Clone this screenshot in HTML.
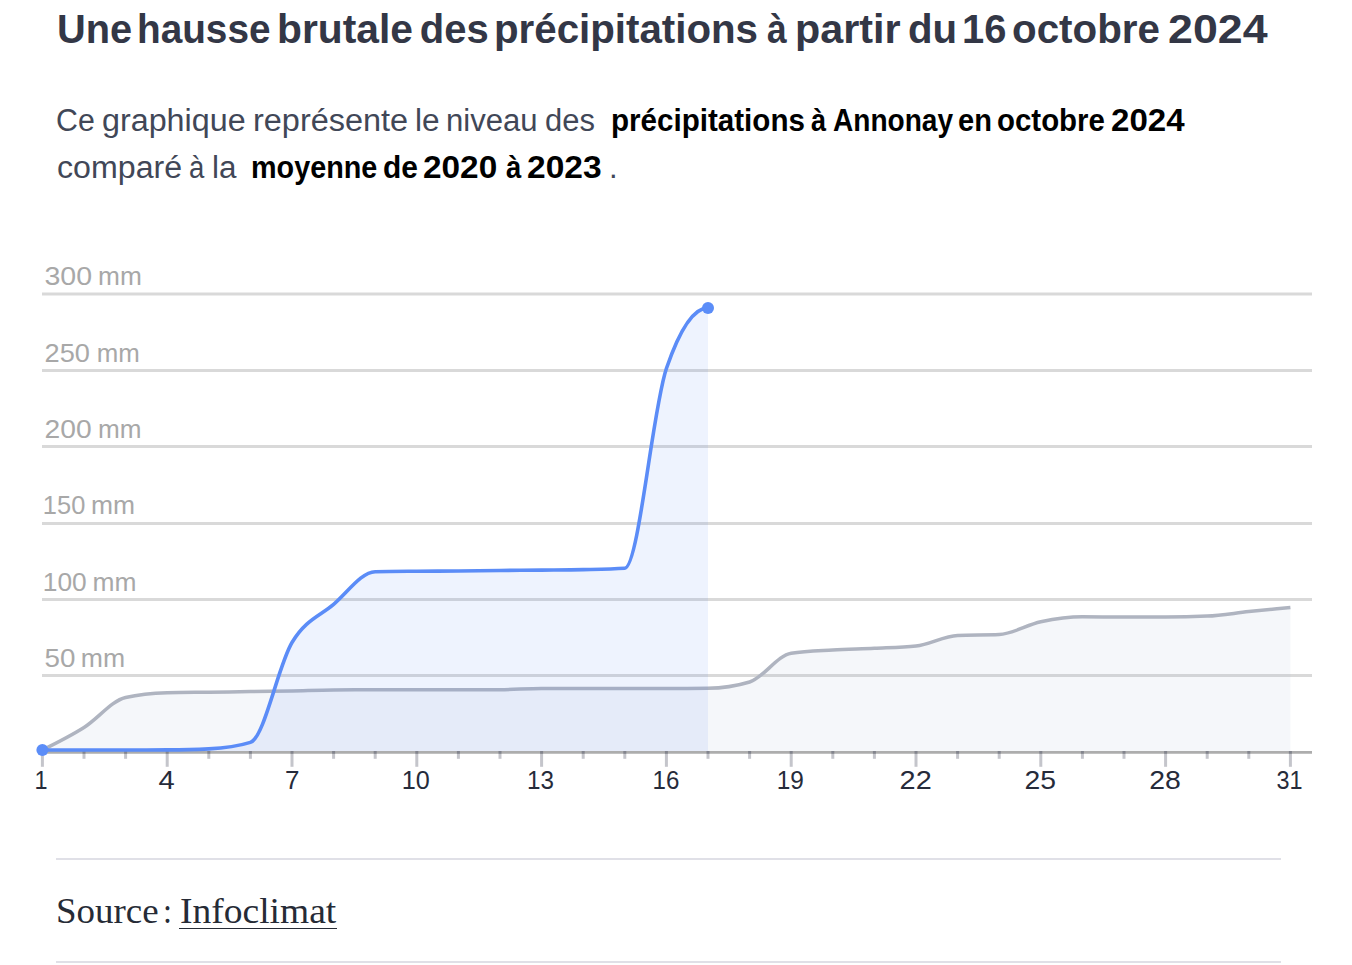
<!DOCTYPE html>
<html lang="fr"><head><meta charset="utf-8"><title>Précipitations Annonay octobre 2024</title><style>
html,body{margin:0;padding:0;background:#fff;width:1352px;height:965px;overflow:hidden;}
body{position:relative;font-family:"Liberation Sans",sans-serif;}
h1,p{margin:0;font-size:inherit;font-weight:inherit;}
.tt,.sr,.sb,.sf{position:absolute;white-space:nowrap;transform-origin:0 0;}
.tt{font-size:40px;line-height:40px;font-weight:bold;color:#333746;}
.sr{font-size:31px;line-height:31px;color:#414757;}
.sb{font-size:31px;line-height:31px;font-weight:bold;color:#000;}
.chart{position:absolute;left:0;top:0;}
.yl{font-family:"Liberation Sans",sans-serif;font-size:25px;fill:#a8a8a8;}
.xl{font-family:"Liberation Sans",sans-serif;font-size:26px;fill:#262b3a;}
.rule{position:absolute;left:56px;width:1225px;height:2px;background:#e0e0e7;}
.sf{font-family:"Liberation Serif",serif;font-size:35px;line-height:35px;color:#262b36;}
.ul{position:absolute;left:179.2px;top:927.6px;width:157.6px;height:1.4px;background:#262b36;}
</style></head><body>
<h1>
<span class="tt" style="left:56.91px;top:8.80px;transform:scaleX(0.9944)">Une</span>
<span class="tt" style="left:136.89px;top:8.80px;transform:scaleX(0.9684)">hausse</span>
<span class="tt" style="left:277.24px;top:8.80px;transform:scaleX(1.0194)">brutale</span>
<span class="tt" style="left:419.80px;top:8.80px">des</span>
<span class="tt" style="left:494.18px;top:8.80px;transform:scaleX(1.0066)">précipitations</span>
<span class="tt" style="left:766.71px;top:8.80px;transform:scaleX(0.8857)">à</span>
<span class="tt" style="left:795.40px;top:8.80px;transform:scaleX(1.0323)">partir</span>
<span class="tt" style="left:908.39px;top:8.80px;transform:scaleX(1.0045)">du</span>
<span class="tt" style="left:961.71px;top:8.80px;transform:scaleX(0.9975)">16</span>
<span class="tt" style="left:1012.38px;top:8.80px;transform:scaleX(1.0084)">octobre</span>
<span class="tt" style="left:1167.88px;top:8.80px;transform:scaleX(1.1182)">2024</span>
</h1>
<p>
<span class="sr" style="left:56.34px;top:104.70px;transform:scaleX(0.9778)">Ce</span>
<span class="sr" style="left:102.06px;top:104.70px;transform:scaleX(1.0412)">graphique</span>
<span class="sr" style="left:252.51px;top:104.70px;transform:scaleX(1.0469)">représente</span>
<span class="sr" style="left:414.96px;top:104.70px;transform:scaleX(1.0190)">le</span>
<span class="sr" style="left:446.19px;top:104.70px;transform:scaleX(1.0034)">niveau</span>
<span class="sr" style="left:545.20px;top:104.70px;transform:scaleX(0.9979)">des</span>
<span class="sb" style="left:610.99px;top:104.70px;transform:scaleX(0.9540)">précipitations</span>
<span class="sb" style="left:811.02px;top:104.70px;transform:scaleX(0.8750)">à</span>
<span class="sb" style="left:832.59px;top:104.70px;transform:scaleX(0.9053)">Annonay</span>
<span class="sb" style="left:958.16px;top:104.70px;transform:scaleX(0.9364)">en</span>
<span class="sb" style="left:996.65px;top:104.70px;transform:scaleX(0.9491)">octobre</span>
<span class="sb" style="left:1111.23px;top:104.70px;transform:scaleX(1.0662)">2024</span>
<span class="sr" style="left:56.76px;top:151.70px;transform:scaleX(1.0373)">comparé</span>
<span class="sr" style="left:188.91px;top:151.70px;transform:scaleX(0.8875)">à</span>
<span class="sr" style="left:211.57px;top:151.70px;transform:scaleX(1.0136)">la</span>
<span class="sb" style="left:251.34px;top:151.70px;transform:scaleX(0.9278)">moyenne</span>
<span class="sb" style="left:383.34px;top:151.70px;transform:scaleX(0.9647)">de</span>
<span class="sb" style="left:423.32px;top:151.70px;transform:scaleX(1.0761)">2020</span>
<span class="sb" style="left:505.81px;top:151.70px;transform:scaleX(0.8875)">à</span>
<span class="sb" style="left:526.82px;top:151.70px;transform:scaleX(1.0821)">2023</span>
<span class="sr" style="left:609.00px;top:151.70px">.</span>
</p>
<svg class="chart" width="1352" height="965" viewBox="0 0 1352 965">
<line x1="42" x2="1312" y1="294.0" y2="294.0" stroke="#d9d9d9" stroke-width="3"/>
<text transform="translate(44.46 285) scale(1.1425 1)" class="yl">300</text>
<text transform="translate(98.10 285) scale(1.0500 1)" class="yl">mm</text>
<line x1="42" x2="1312" y1="370.5" y2="370.5" stroke="#d9d9d9" stroke-width="3"/>
<text transform="translate(44.61 362) scale(1.0875 1)" class="yl">250</text>
<text transform="translate(96.63 362) scale(1.0342 1)" class="yl">mm</text>
<line x1="42" x2="1312" y1="446.5" y2="446.5" stroke="#d9d9d9" stroke-width="3"/>
<text transform="translate(44.57 438) scale(1.1300 1)" class="yl">200</text>
<text transform="translate(97.91 438) scale(1.0447 1)" class="yl">mm</text>
<line x1="42" x2="1312" y1="523.5" y2="523.5" stroke="#d9d9d9" stroke-width="3"/>
<text transform="translate(42.86 514) scale(1.0179 1)" class="yl">150</text>
<text transform="translate(90.88 514) scale(1.0579 1)" class="yl">mm</text>
<line x1="42" x2="1312" y1="599.5" y2="599.5" stroke="#d9d9d9" stroke-width="3"/>
<text transform="translate(42.79 591) scale(1.0538 1)" class="yl">100</text>
<text transform="translate(92.59 591) scale(1.0553 1)" class="yl">mm</text>
<line x1="42" x2="1312" y1="675.5" y2="675.5" stroke="#d9d9d9" stroke-width="3"/>
<text transform="translate(44.59 667) scale(1.1115 1)" class="yl">50</text>
<text transform="translate(80.87 667) scale(1.0632 1)" class="yl">mm</text>
<path d="M42.40,750.00C56.27,743.12 70.13,736.25 84.00,727.50C97.87,718.75 111.73,700.63 125.60,697.50C139.47,694.37 153.33,693.20 167.20,692.80C181.07,692.40 194.93,692.40 208.80,692.20C222.67,692.00 236.53,691.82 250.40,691.60C264.27,691.38 278.13,691.17 292.00,690.90C305.87,690.63 319.73,690.13 333.60,690.00C347.47,689.87 361.33,689.80 375.20,689.80C389.07,689.80 402.93,689.80 416.80,689.80C430.67,689.80 444.53,689.80 458.40,689.80C472.27,689.80 486.13,689.77 500.00,689.70C513.87,689.63 527.73,688.40 541.60,688.40C555.47,688.40 569.33,688.40 583.20,688.40C597.07,688.40 610.93,688.40 624.80,688.40C638.67,688.40 652.53,688.40 666.40,688.40C680.27,688.40 694.13,688.37 708.00,688.30C721.87,688.23 735.73,686.20 749.60,682.00C763.47,677.80 777.33,655.33 791.20,653.20C805.07,651.07 818.93,650.82 832.80,650.00C846.67,649.18 860.53,648.97 874.40,648.30C888.27,647.63 902.13,647.53 916.00,646.00C929.87,644.47 943.73,636.00 957.60,635.40C971.47,634.80 985.33,635.10 999.20,634.50C1013.07,633.90 1026.93,624.75 1040.80,621.80C1054.67,618.85 1068.53,616.80 1082.40,616.80C1096.27,616.80 1110.13,616.95 1124.00,617.00C1137.87,617.05 1151.73,617.10 1165.60,617.10C1179.47,617.10 1193.33,616.77 1207.20,616.10C1221.07,615.43 1234.93,613.03 1248.80,611.60C1262.67,610.17 1276.53,608.83 1290.40,607.50L1290.40,751.50L42.40,751.50Z" fill="#a0b0cc" fill-opacity="0.1"/>
<path d="M42.40,750.00C56.27,743.12 70.13,736.25 84.00,727.50C97.87,718.75 111.73,700.63 125.60,697.50C139.47,694.37 153.33,693.20 167.20,692.80C181.07,692.40 194.93,692.40 208.80,692.20C222.67,692.00 236.53,691.82 250.40,691.60C264.27,691.38 278.13,691.17 292.00,690.90C305.87,690.63 319.73,690.13 333.60,690.00C347.47,689.87 361.33,689.80 375.20,689.80C389.07,689.80 402.93,689.80 416.80,689.80C430.67,689.80 444.53,689.80 458.40,689.80C472.27,689.80 486.13,689.77 500.00,689.70C513.87,689.63 527.73,688.40 541.60,688.40C555.47,688.40 569.33,688.40 583.20,688.40C597.07,688.40 610.93,688.40 624.80,688.40C638.67,688.40 652.53,688.40 666.40,688.40C680.27,688.40 694.13,688.37 708.00,688.30C721.87,688.23 735.73,686.20 749.60,682.00C763.47,677.80 777.33,655.33 791.20,653.20C805.07,651.07 818.93,650.82 832.80,650.00C846.67,649.18 860.53,648.97 874.40,648.30C888.27,647.63 902.13,647.53 916.00,646.00C929.87,644.47 943.73,636.00 957.60,635.40C971.47,634.80 985.33,635.10 999.20,634.50C1013.07,633.90 1026.93,624.75 1040.80,621.80C1054.67,618.85 1068.53,616.80 1082.40,616.80C1096.27,616.80 1110.13,616.95 1124.00,617.00C1137.87,617.05 1151.73,617.10 1165.60,617.10C1179.47,617.10 1193.33,616.77 1207.20,616.10C1221.07,615.43 1234.93,613.03 1248.80,611.60C1262.67,610.17 1276.53,608.83 1290.40,607.50" fill="none" stroke="#afb4c0" stroke-width="3.5"/>
<path d="M42.40,750.00C56.27,750.00 70.13,750.00 84.00,750.00C97.87,750.00 111.73,750.00 125.60,750.00C139.47,750.00 153.33,749.97 167.20,749.90C181.07,749.83 194.93,749.57 208.80,748.90C222.67,748.23 236.53,746.73 250.40,742.40C264.27,738.07 278.13,665.50 292.00,642.50C305.87,619.50 319.73,616.20 333.60,604.40C347.47,592.60 361.33,572.03 375.20,571.70C389.07,571.37 402.93,571.32 416.80,571.20C430.67,571.08 444.53,571.12 458.40,571.00C472.27,570.88 486.13,570.65 500.00,570.50C513.87,570.35 527.73,570.25 541.60,570.10C555.47,569.95 569.33,569.92 583.20,569.60C597.07,569.28 610.93,569.13 624.80,568.20C638.67,567.27 652.53,408.90 666.40,368.50C680.27,328.10 694.13,307.90 708.00,307.90L708.00,751.50L42.40,751.50Z" fill="#5b8df8" fill-opacity="0.1"/>
<line x1="42" x2="1312" y1="752.4" y2="752.4" stroke="#adadad" stroke-width="2.8"/>
<line x1="42.40" x2="42.40" y1="753.8" y2="766.8" stroke="#c4c5cb" stroke-width="3"/>
<rect x="40.90" y="751" width="3" height="2.8" fill="#82848d"/>
<text transform="translate(34.60 789) scale(0.9000 1)" class="xl">1</text>
<line x1="84.00" x2="84.00" y1="753.8" y2="758.8" stroke="#c4c5cb" stroke-width="3"/>
<rect x="82.50" y="751" width="3" height="2.8" fill="#82848d"/>
<line x1="125.60" x2="125.60" y1="753.8" y2="758.8" stroke="#c4c5cb" stroke-width="3"/>
<rect x="124.10" y="751" width="3" height="2.8" fill="#82848d"/>
<line x1="167.20" x2="167.20" y1="753.8" y2="766.8" stroke="#c4c5cb" stroke-width="3"/>
<rect x="165.70" y="751" width="3" height="2.8" fill="#82848d"/>
<text transform="translate(158.58 789) scale(1.1231 1)" class="xl">4</text>
<line x1="208.80" x2="208.80" y1="753.8" y2="758.8" stroke="#c4c5cb" stroke-width="3"/>
<rect x="207.30" y="751" width="3" height="2.8" fill="#82848d"/>
<line x1="250.40" x2="250.40" y1="753.8" y2="758.8" stroke="#c4c5cb" stroke-width="3"/>
<rect x="248.90" y="751" width="3" height="2.8" fill="#82848d"/>
<line x1="292.00" x2="292.00" y1="753.8" y2="766.8" stroke="#c4c5cb" stroke-width="3"/>
<rect x="290.50" y="751" width="3" height="2.8" fill="#82848d"/>
<text transform="translate(284.90 789) scale(1.0000 1)" class="xl">7</text>
<line x1="333.60" x2="333.60" y1="753.8" y2="758.8" stroke="#c4c5cb" stroke-width="3"/>
<rect x="332.10" y="751" width="3" height="2.8" fill="#82848d"/>
<line x1="375.20" x2="375.20" y1="753.8" y2="758.8" stroke="#c4c5cb" stroke-width="3"/>
<rect x="373.70" y="751" width="3" height="2.8" fill="#82848d"/>
<line x1="416.80" x2="416.80" y1="753.8" y2="766.8" stroke="#c4c5cb" stroke-width="3"/>
<rect x="415.30" y="751" width="3" height="2.8" fill="#82848d"/>
<text transform="translate(401.86 789) scale(0.9692 1)" class="xl">10</text>
<line x1="458.40" x2="458.40" y1="753.8" y2="758.8" stroke="#c4c5cb" stroke-width="3"/>
<rect x="456.90" y="751" width="3" height="2.8" fill="#82848d"/>
<line x1="500.00" x2="500.00" y1="753.8" y2="758.8" stroke="#c4c5cb" stroke-width="3"/>
<rect x="498.50" y="751" width="3" height="2.8" fill="#82848d"/>
<line x1="541.60" x2="541.60" y1="753.8" y2="766.8" stroke="#c4c5cb" stroke-width="3"/>
<rect x="540.10" y="751" width="3" height="2.8" fill="#82848d"/>
<text transform="translate(527.04 789) scale(0.9308 1)" class="xl">13</text>
<line x1="583.20" x2="583.20" y1="753.8" y2="758.8" stroke="#c4c5cb" stroke-width="3"/>
<rect x="581.70" y="751" width="3" height="2.8" fill="#82848d"/>
<line x1="624.80" x2="624.80" y1="753.8" y2="758.8" stroke="#c4c5cb" stroke-width="3"/>
<rect x="623.30" y="751" width="3" height="2.8" fill="#82848d"/>
<line x1="666.40" x2="666.40" y1="753.8" y2="766.8" stroke="#c4c5cb" stroke-width="3"/>
<rect x="664.90" y="751" width="3" height="2.8" fill="#82848d"/>
<text transform="translate(652.55 789) scale(0.9269 1)" class="xl">16</text>
<line x1="708.00" x2="708.00" y1="753.8" y2="758.8" stroke="#c4c5cb" stroke-width="3"/>
<rect x="706.50" y="751" width="3" height="2.8" fill="#82848d"/>
<line x1="749.60" x2="749.60" y1="753.8" y2="758.8" stroke="#c4c5cb" stroke-width="3"/>
<rect x="748.10" y="751" width="3" height="2.8" fill="#82848d"/>
<line x1="791.20" x2="791.20" y1="753.8" y2="766.8" stroke="#c4c5cb" stroke-width="3"/>
<rect x="789.70" y="751" width="3" height="2.8" fill="#82848d"/>
<text transform="translate(776.72 789) scale(0.9385 1)" class="xl">19</text>
<line x1="832.80" x2="832.80" y1="753.8" y2="758.8" stroke="#c4c5cb" stroke-width="3"/>
<rect x="831.30" y="751" width="3" height="2.8" fill="#82848d"/>
<line x1="874.40" x2="874.40" y1="753.8" y2="758.8" stroke="#c4c5cb" stroke-width="3"/>
<rect x="872.90" y="751" width="3" height="2.8" fill="#82848d"/>
<line x1="916.00" x2="916.00" y1="753.8" y2="766.8" stroke="#c4c5cb" stroke-width="3"/>
<rect x="914.50" y="751" width="3" height="2.8" fill="#82848d"/>
<text transform="translate(899.59 789) scale(1.1111 1)" class="xl">22</text>
<line x1="957.60" x2="957.60" y1="753.8" y2="758.8" stroke="#c4c5cb" stroke-width="3"/>
<rect x="956.10" y="751" width="3" height="2.8" fill="#82848d"/>
<line x1="999.20" x2="999.20" y1="753.8" y2="758.8" stroke="#c4c5cb" stroke-width="3"/>
<rect x="997.70" y="751" width="3" height="2.8" fill="#82848d"/>
<line x1="1040.80" x2="1040.80" y1="753.8" y2="766.8" stroke="#c4c5cb" stroke-width="3"/>
<rect x="1039.30" y="751" width="3" height="2.8" fill="#82848d"/>
<text transform="translate(1024.51 789) scale(1.0889 1)" class="xl">25</text>
<line x1="1082.40" x2="1082.40" y1="753.8" y2="758.8" stroke="#c4c5cb" stroke-width="3"/>
<rect x="1080.90" y="751" width="3" height="2.8" fill="#82848d"/>
<line x1="1124.00" x2="1124.00" y1="753.8" y2="758.8" stroke="#c4c5cb" stroke-width="3"/>
<rect x="1122.50" y="751" width="3" height="2.8" fill="#82848d"/>
<line x1="1165.60" x2="1165.60" y1="753.8" y2="766.8" stroke="#c4c5cb" stroke-width="3"/>
<rect x="1164.10" y="751" width="3" height="2.8" fill="#82848d"/>
<text transform="translate(1149.31 789) scale(1.0926 1)" class="xl">28</text>
<line x1="1207.20" x2="1207.20" y1="753.8" y2="758.8" stroke="#c4c5cb" stroke-width="3"/>
<rect x="1205.70" y="751" width="3" height="2.8" fill="#82848d"/>
<line x1="1248.80" x2="1248.80" y1="753.8" y2="758.8" stroke="#c4c5cb" stroke-width="3"/>
<rect x="1247.30" y="751" width="3" height="2.8" fill="#82848d"/>
<line x1="1290.40" x2="1290.40" y1="753.8" y2="766.8" stroke="#c4c5cb" stroke-width="3"/>
<rect x="1288.90" y="751" width="3" height="2.8" fill="#82848d"/>
<text transform="translate(1276.55 789) scale(0.9000 1)" class="xl">31</text>
<path d="M42.40,750.00C56.27,750.00 70.13,750.00 84.00,750.00C97.87,750.00 111.73,750.00 125.60,750.00C139.47,750.00 153.33,749.97 167.20,749.90C181.07,749.83 194.93,749.57 208.80,748.90C222.67,748.23 236.53,746.73 250.40,742.40C264.27,738.07 278.13,665.50 292.00,642.50C305.87,619.50 319.73,616.20 333.60,604.40C347.47,592.60 361.33,572.03 375.20,571.70C389.07,571.37 402.93,571.32 416.80,571.20C430.67,571.08 444.53,571.12 458.40,571.00C472.27,570.88 486.13,570.65 500.00,570.50C513.87,570.35 527.73,570.25 541.60,570.10C555.47,569.95 569.33,569.92 583.20,569.60C597.07,569.28 610.93,569.13 624.80,568.20C638.67,567.27 652.53,408.90 666.40,368.50C680.27,328.10 694.13,307.90 708.00,307.90" fill="none" stroke="#5b8cf7" stroke-width="3.6"/>
<circle cx="42.40" cy="750.00" r="6" fill="#5b8df8"/>
<circle cx="708.00" cy="307.90" r="6" fill="#5b8df8"/>
</svg>
<div class="rule" style="top:858px"></div>
<p>
<span class="sf" style="left:55.69px;top:893.50px;transform:scaleX(1.0553)">Source</span>
<span class="sf" style="left:163.32px;top:893.50px;transform:scaleX(0.9250)">:</span>
<span class="sf" style="left:179.73px;top:893.50px;transform:scaleX(1.0717)">Infoclimat</span>
</p>
<div class="ul"></div>
<div class="rule" style="top:961px"></div>
</body></html>
